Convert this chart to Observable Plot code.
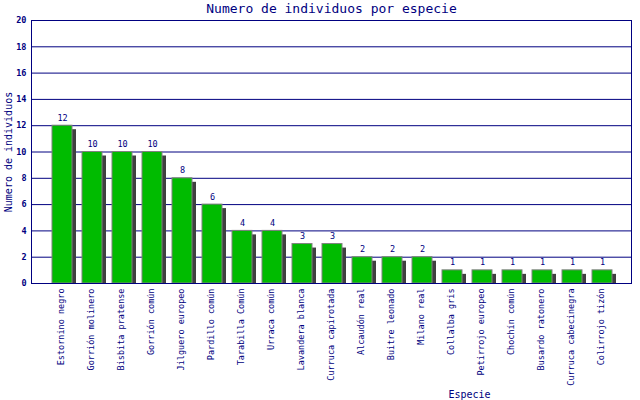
<!DOCTYPE html>
<html>
<head>
<meta charset="utf-8">
<script src="https://cdn.jsdelivr.net/npm/d3@7"></script>
<script src="https://cdn.jsdelivr.net/npm/@observablehq/plot@0.6"></script>
<style>
  html, body { margin: 0; padding: 0; background: #fff; }
</style>
</head>
<body>
<div id="chart"></div>
<script>
const especies = [
  "Estornino negro", "Gorrión molinero", "Bisbita pratense", "Gorrión común",
  "Jilguero europeo", "Pardillo común", "Tarabilla Común", "Urraca común",
  "Lavandera blanca", "Curruca capirotada", "Alcaudón real", "Buitre leonado",
  "Milano real", "Collalba gris", "Petirrojo europeo", "Chochín común",
  "Busardo ratonero", "Curruca cabecinegra", "Colirrojo tizón"
];
const individuos = [12, 10, 10, 10, 8, 6, 4, 4, 3, 3, 2, 2, 2, 1, 1, 1, 1, 1, 1];
const yTicks = [0, 2, 4, 6, 8, 10, 12, 14, 16, 18, 20];
const titulo = "Numero de individuos por especie";
const etiquetaY = "Numero de individuos";
const etiquetaX = "Especie";

const data = especies.map((e, i) => ({especie: e, n: individuos[i]}));
const navy = "#000080";
const mono = "DejaVu Sans Mono, monospace";

const chart = Plot.plot({
  width: 640,
  height: 400,
  marginTop: 20,
  marginBottom: 117,
  marginLeft: 31,
  marginRight: 9,
  style: {background: "#fff", color: navy, fontFamily: mono},
  x: {domain: especies, paddingInner: 1/3, paddingOuter: 2/3, label: null},
  y: {domain: [0, 20], label: null},
  marks: [
    Plot.gridY(yTicks, {stroke: navy, strokeOpacity: 1, strokeWidth: 1}),
    Plot.barY(data, {x: "especie", y: "n", fill: "#404040", dx: 5, insetTop: 4}),
    Plot.barY(data, {x: "especie", y: "n", fill: "#00bb00", stroke: "#808080", strokeWidth: 1, dx: 1}),
    Plot.text(data, {x: "especie", y: "n", text: d => String(d.n), lineAnchor: "bottom", dy: -5, dx: 1, fill: navy, fontSize: 8.5}),
    Plot.axisY({ticks: yTicks, tickSize: 0, tickPadding: 5, fontSize: 8.5, fontWeight: "bold", label: null, color: navy}),
    Plot.axisX({tickSize: 0, tickPadding: 5, tickRotate: -90, fontSize: 8.5, label: null, color: navy}),
    Plot.ruleX([0], {frameAnchor: "left", stroke: navy}),
    Plot.frame({stroke: navy, strokeWidth: 1}),
    Plot.text([titulo], {frameAnchor: "top", lineAnchor: "middle", dy: -12, fontSize: 13, fill: navy}),
    Plot.text([etiquetaY], {frameAnchor: "left", textAnchor: "middle", lineAnchor: "middle", dx: -23, rotate: -90, fontSize: 10, fill: navy}),
    Plot.text([etiquetaX], {frameAnchor: "bottom", lineAnchor: "middle", dx: 138, dy: 111, fontSize: 10, fill: navy})
  ]
});
document.getElementById("chart").appendChild(chart);
</script>
</body>
</html>
